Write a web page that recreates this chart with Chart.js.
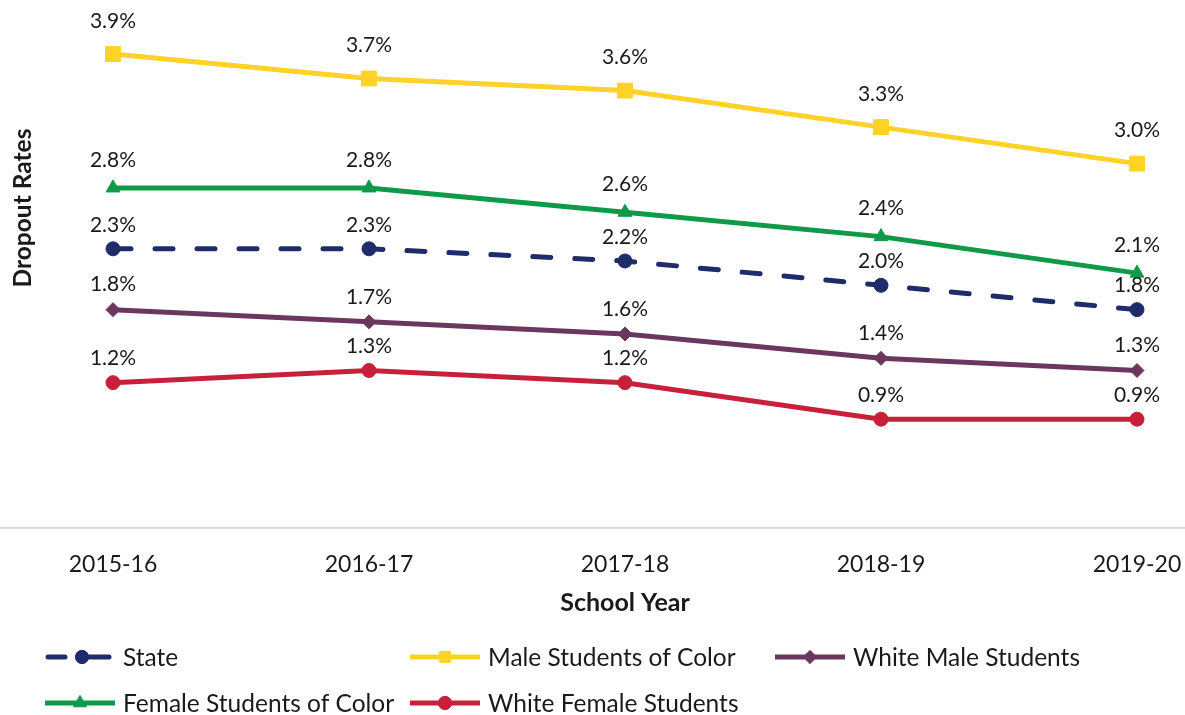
<!DOCTYPE html>
<html>
<head>
<meta charset="utf-8">
<script src="https://cdn.jsdelivr.net/npm/chart.js@4/dist/chart.umd.min.js"></script>
<style>
  html, body { margin: 0; padding: 0; background: #ffffff; }
  #wrap { width: 1185px; height: 715px; }
</style>
</head>
<body>
<div id="wrap"><canvas id="c" width="1185" height="715"></canvas></div>
<script>
// ---- Data ----
const schoolYears = ['2015-16', '2016-17', '2017-18', '2018-19', '2019-20'];
const stateRates = [2.3, 2.3, 2.2, 2.0, 1.8];
const maleColorRates = [3.9, 3.7, 3.6, 3.3, 3.0];
const whiteMaleRates = [1.8, 1.7, 1.6, 1.4, 1.3];
const femaleColorRates = [2.8, 2.8, 2.6, 2.4, 2.1];
const whiteFemaleRates = [1.2, 1.3, 1.2, 0.9, 0.9];
const seriesNames = ['State', 'Male Students of Color', 'White Male Students', 'Female Students of Color', 'White Female Students'];

const FONT = 'Lato, "Open Sans", sans-serif';
const TEXT = '#1a1a1a';

function ds(label, data, color, style, radius, dashed, labelGap) {
  return {
    label, data,
    borderColor: color, backgroundColor: color,
    pointBackgroundColor: color, pointBorderColor: color,
    borderWidth: 5,
    borderDash: dashed ? [18, 24] : [],
    borderCapStyle: dashed ? 'round' : 'butt',
    pointStyle: style, pointRadius: radius, pointBorderWidth: 1,
    tension: 0, clip: false,
    labelGap
  };
}

const datasets = [
  ds(seriesNames[0], stateRates, '#1F2C6B', 'circle', 7, true, 24),
  ds(seriesNames[1], maleColorRates, '#FFD22A', 'rect', 10.5, false, 33),
  ds(seriesNames[2], whiteMaleRates, '#6B375E', 'rectRot', 7, false, 25),
  ds(seriesNames[3], femaleColorRates, '#0E9A48', 'triangle', 8, false, 28),
  ds(seriesNames[4], whiteFemaleRates, '#C8203A', 'circle', 7, false, 24)
];
datasets.forEach((d, i) => { d.order = i === 0 ? 0 : 1; });

function drawMarker(ctx, style, x, y, r, color) {
  ctx.save();
  ctx.fillStyle = color;
  ctx.strokeStyle = color;
  ctx.lineWidth = 1;
  ctx.setLineDash([]);
  ctx.beginPath();
  if (style === 'circle') {
    ctx.arc(x, y, r, 0, Math.PI * 2);
  } else if (style === 'rect') {
    const s = Math.SQRT1_2 * r;
    ctx.rect(x - s, y - s, 2 * s, 2 * s);
  } else if (style === 'rectRot') {
    ctx.moveTo(x, y - r); ctx.lineTo(x + r, y); ctx.lineTo(x, y + r); ctx.lineTo(x - r, y); ctx.closePath();
  } else if (style === 'triangle') {
    ctx.moveTo(x, y - r);
    ctx.lineTo(x + Math.cos(Math.PI / 6) * r, y + Math.sin(Math.PI / 6) * r);
    ctx.lineTo(x - Math.cos(Math.PI / 6) * r, y + Math.sin(Math.PI / 6) * r);
    ctx.closePath();
  }
  ctx.fill();
  ctx.stroke();
  ctx.restore();
}

const decorPlugin = {
  id: 'decor',
  beforeDatasetsDraw(chart) {
    const ctx = chart.ctx;
    const y0 = chart.scales.y.getPixelForValue(0);
    ctx.save();
    ctx.strokeStyle = '#D9D9D9';
    ctx.lineWidth = 2;
    ctx.beginPath();
    ctx.moveTo(0, y0 - 1);
    ctx.lineTo(chart.width, y0 - 1);
    ctx.stroke();
    ctx.restore();
  },
  afterDatasetsDraw(chart) {
    const ctx = chart.ctx;
    ctx.save();
    ctx.font = '21px ' + FONT;
    ctx.fillStyle = TEXT;
    ctx.textAlign = 'center';
    ctx.textBaseline = 'middle';
    chart.data.datasets.forEach((d, i) => {
      const meta = chart.getDatasetMeta(i);
      meta.data.forEach((el, j) => {
        ctx.fillText(d.data[j].toFixed(1) + '%', el.x, el.y - d.labelGap);
      });
    });
    ctx.restore();
  },
  afterDraw(chart) {
    const ctx = chart.ctx;
    const area = chart.chartArea;
    ctx.save();
    ctx.fillStyle = TEXT;
    // Y title
    ctx.font = 'bold 24.5px ' + FONT;
    ctx.textAlign = 'center';
    ctx.textBaseline = 'middle';
    ctx.save();
    ctx.translate(23, 208);
    ctx.rotate(-Math.PI / 2);
    ctx.fillText('Dropout Rates', 0, 0);
    ctx.restore();
    // X title
    ctx.font = 'bold 25px ' + FONT;
    ctx.fillText('School Year', (area.left + area.right) / 2, 603);
    // Legend
    const cols = [45, 410, 775];
    const rows = [657, 703];
    ctx.font = '24.5px ' + FONT;
    ctx.textAlign = 'left';
    chart.data.datasets.forEach((d, i) => {
      const x = cols[i % 3];
      const y = rows[Math.floor(i / 3)];
      const dashed = d.borderDash.length > 0;
      ctx.save();
      ctx.strokeStyle = d.borderColor;
      ctx.lineWidth = 5;
      if (dashed) {
        ctx.lineCap = 'round';
        ctx.beginPath();
        ctx.moveTo(x + 3, y);
        ctx.lineTo(x + 20, y);
        ctx.stroke();
        ctx.beginPath();
        ctx.moveTo(x + 37, y);
        ctx.lineTo(x + 64, y);
        ctx.stroke();
      } else {
        ctx.beginPath();
        ctx.moveTo(x, y);
        ctx.lineTo(x + 70, y);
        ctx.stroke();
      }
      ctx.restore();
      drawMarker(ctx, d.pointStyle, x + (dashed ? 37 : 35), y, Math.min(d.pointRadius, 8) * 0.95, d.borderColor);
      ctx.fillStyle = TEXT;
      ctx.fillText(d.label, x + 78, y + 1);
    });
    ctx.restore();
  }
};

new Chart(document.getElementById('c'), {
  type: 'line',
  data: { labels: schoolYears, datasets },
  options: {
    responsive: false,
    animation: false,
    layout: { padding: { left: 113, right: 48, top: 5, bottom: 0 } },
    plugins: { legend: { display: false }, tooltip: { enabled: false } },
    scales: {
      x: {
        offset: false,
        grid: { display: false, drawTicks: false },
        border: { display: false },
        ticks: { color: TEXT, font: { family: FONT, size: 23 }, padding: 22, maxRotation: 0, autoSkip: false },
        afterFit(scale) { scale.height = 186.3; scale.paddingLeft = 0; scale.paddingRight = 0; }
      },
      y: {
        display: false,
        min: 0, max: 4.25
      }
    }
  },
  plugins: [decorPlugin]
});
</script>
</body>
</html>
